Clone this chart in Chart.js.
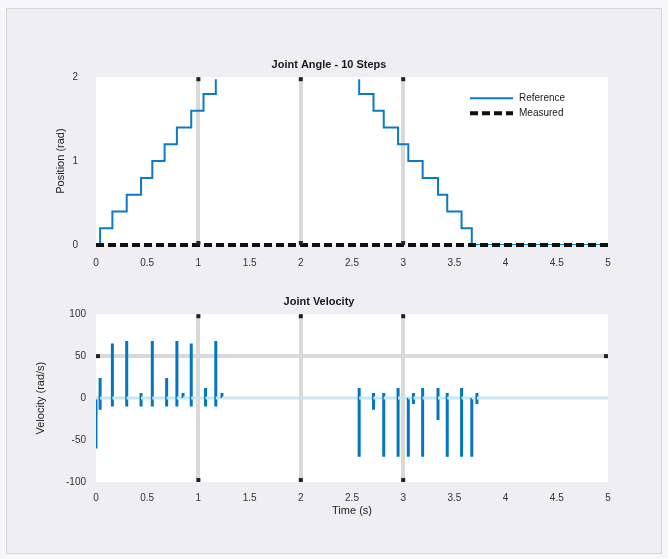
<!DOCTYPE html>
<html lang="en">
<head>
  <meta charset="UTF-8">
  <title>Staircase Response</title>
  <script src="https://cdn.jsdelivr.net/npm/chart.js"></script>
  <style>
    body {
      margin: 0;
      padding: 0;
      background: #f7f7f9;
      font-family: 'Liberation Sans', sans-serif;
    }

    .panel {
      position: absolute;
      left: 6px;
      top: 8px;
      width: 654px;
      height: 544px;
      background: #eeeef3;
      border: 1px solid #d6d6d6;
    }

    canvas {
      position: absolute;
      left: 0;
    }

    #topChart { top: 0; }
    #bottomChart { top: 280px; }
  </style>
</head>
<body>

  <div class="panel"></div>
  <canvas id="topChart" width="668" height="280"></canvas>
  <canvas id="bottomChart" width="668" height="279"></canvas>

  <script>
    // staircase reference (step times in s, level after each step)
    const refTimes = [0, 0.04, 0.16, 0.30, 0.44, 0.55, 0.67, 0.79, 0.93, 1.05, 1.17,
                      2.57, 2.71, 2.81, 2.95, 3.05, 3.19, 3.34, 3.43, 3.57, 3.67, 5];
    const refLevels = [0, 0.2, 0.4, 0.6, 0.8, 1.0, 1.2, 1.4, 1.6, 1.8, 2.0,
                       1.8, 1.6, 1.4, 1.2, 1.0, 0.8, 0.6, 0.4, 0.2, 0, 0];
    const measTimes = [0, 5];
    const measLevels = [0, 0];

    // velocity spikes: time, positive peak, negative peak
    const spikeTimes = [0.00, 0.04, 0.16, 0.30, 0.44, 0.55, 0.69, 0.79, 0.85, 0.93, 1.07, 1.17, 1.23,
                        2.57, 2.71, 2.81, 2.95, 3.05, 3.10, 3.19, 3.34, 3.43, 3.57, 3.67, 3.72];
    const spikeHigh = [0, 24, 65, 68, 6, 68, 24, 68, 6, 65, 12, 68, 6,
                       12, 6, 6, 12, 0, 6, 12, 12, 6, 12, 0, 6];
    const spikeLow = [-60, -14, -10, -10, -10, -10, -10, -10, 0, -10, -10, -10, 0,
                      -70, -14, -70, -70, -70, -7, -70, -26, -70, -70, -70, -7];

    const xGridValues = [1, 2, 3];
    const yGridBottom = [50];

    const tickFont = { family: 'Liberation Sans', size: 10 };
    const labelFont = { family: 'Liberation Sans', size: 11 };
    const REF_BLUE = '#0a7cc4';

    const refData = refTimes.map((t, i) => ({ x: t, y: refLevels[i] }));
    const measData = measTimes.map((t, i) => ({ x: t, y: measLevels[i] }));

    const velData = [];
    spikeTimes.forEach((t, i) => {
      velData.push({ x: t, y: 0 }, { x: t, y: spikeHigh[i] }, { x: t, y: spikeLow[i] }, { x: t, y: 0 });
    });
    velData.push({ x: 5, y: 0 });

    // white plot area + dark marks at the ends of the grid lines
    const plotArea = {
      id: 'plotArea',
      beforeDraw(chart) {
        const a = chart.chartArea, ctx = chart.ctx;
        ctx.save();
        ctx.fillStyle = '#ffffff';
        ctx.fillRect(a.left, a.top, a.right - a.left, a.bottom - a.top);
        ctx.restore();
      },
      afterDatasetsDraw(chart, args, opts) {
        const a = chart.chartArea, ctx = chart.ctx;
        ctx.save();
        ctx.fillStyle = '#222';
        (opts.xMarks || []).forEach(v => {
          const px = chart.scales.x.getPixelForValue(v);
          ctx.fillRect(px - 2, a.top, 4, 4);
          ctx.fillRect(px - 2, a.bottom - 4, 4, 4);
        });
        (opts.yMarks || []).forEach(v => {
          const py = chart.scales.y.getPixelForValue(v);
          ctx.fillRect(a.left, py - 2, 4, 4);
          ctx.fillRect(a.right - 4, py - 2, 4, 4);
        });
        ctx.restore();
      }
    };

    // legend inside the top-right of the plot
    const innerLegend = {
      id: 'innerLegend',
      afterDraw(chart) {
        const ctx = chart.ctx;
        const a = chart.chartArea;
        const x0 = a.right - 138, y0 = a.top + 21;
        ctx.save();
        ctx.font = '10px "Liberation Sans"';
        ctx.textBaseline = 'middle';
        chart.data.datasets.forEach((ds, i) => {
          const y = y0 + i * 15;
          ctx.strokeStyle = ds.borderColor;
          ctx.lineWidth = i === 0 ? 2 : 4;
          ctx.setLineDash(ds.borderDash || []);
          ctx.beginPath();
          ctx.moveTo(x0, y);
          ctx.lineTo(x0 + 43, y);
          ctx.stroke();
          ctx.setLineDash([]);
          ctx.fillStyle = '#222';
          ctx.fillText(ds.label, x0 + 49, y);
        });
        ctx.restore();
      }
    };

    function xScale(showTitle, tickPad) {
      return {
        type: 'linear',
        min: 0,
        max: 5,
        border: { display: false },
        grid: {
          drawTicks: false,
          lineWidth: 4,
          color: c => xGridValues.includes(c.tick.value) ? '#d9d9d9' : 'rgba(0,0,0,0)'
        },
        ticks: {
          stepSize: 0.5,
          padding: tickPad,
          color: '#333',
          font: tickFont,
          maxRotation: 0,
          autoSkip: false,
          callback: v => String(v)
        },
        title: {
          display: showTitle,
          text: 'Time (s)',
          color: '#222',
          font: labelFont
        }
      };
    }

    new Chart(document.getElementById('topChart'), {
      type: 'line',
      data: {
        datasets: [
          {
            label: 'Reference',
            data: refData,
            stepped: 'before',
            borderColor: REF_BLUE,
            borderWidth: 2,
            pointRadius: 0,
            order: 1,
            clip: { left: 0, top: -2, right: 0, bottom: 0 }
          },
          {
            label: 'Measured',
            data: measData,
            borderColor: '#111111',
            borderWidth: 4,
            borderDash: [8, 4],
            pointRadius: 0,
            order: 0,
            clip: 6
          }
        ]
      },
      options: {
        responsive: false,
        devicePixelRatio: 1,
        animation: false,
        layout: { padding: { left: 50, right: 60, top: 58, bottom: 0 } },
        plugins: {
          legend: { display: false },
          tooltip: { enabled: false },
          plotArea: { xMarks: xGridValues },
          title: {
            display: true,
            text: 'Joint Angle - 10 Steps',
            color: '#1a1a1a',
            font: labelFont,
            padding: { top: 0, bottom: 6 }
          }
        },
        scales: {
          x: Object.assign(xScale(false, 12), {
            afterFit: s => { s.height = 35; }
          }),
          y: {
            min: 0,
            max: 2,
            border: { display: false },
            grid: { display: false },
            ticks: { stepSize: 1, padding: 10, color: '#333', font: tickFont },
            title: { display: true, text: 'Position (rad)', color: '#222', font: labelFont },
            afterFit: s => { s.width = 46; }
          }
        }
      },
      plugins: [plotArea, innerLegend]
    });

    new Chart(document.getElementById('bottomChart'), {
      type: 'line',
      data: {
        datasets: [{
          label: 'Velocity',
          data: velData,
          borderColor: '#0077c0',
          borderWidth: 3,
          pointRadius: 0,
          segment: {
            borderColor: s => (s.p0.parsed.y === 0 && s.p1.parsed.y === 0) ? '#c9e6f3' : undefined
          }
        }]
      },
      options: {
        responsive: false,
        devicePixelRatio: 1,
        animation: false,
        layout: { padding: { left: 30, right: 60, top: 15, bottom: 37 } },
        plugins: {
          legend: { display: false },
          tooltip: { enabled: false },
          plotArea: { xMarks: xGridValues, yMarks: yGridBottom },
          title: {
            display: true,
            text: 'Joint Velocity',
            color: '#1a1a1a',
            font: labelFont,
            padding: { top: 0, bottom: 6 }
          }
        },
        scales: {
          x: Object.assign(xScale(true, 10), {
            afterFit: s => { s.height = 40; }
          }),
          y: {
            min: -100,
            max: 100,
            border: { display: false },
            grid: {
              drawTicks: false,
              lineWidth: 4,
              color: c => yGridBottom.includes(c.tick.value) ? '#d9d9d9' : 'rgba(0,0,0,0)'
            },
            ticks: { stepSize: 50, padding: 10, color: '#333', font: tickFont },
            title: { display: true, text: 'Velocity (rad/s)', color: '#222', font: labelFont },
            afterFit: s => { s.width = 66; }
          }
        }
      },
      plugins: [plotArea]
    });
  </script>

</body>
</html>
